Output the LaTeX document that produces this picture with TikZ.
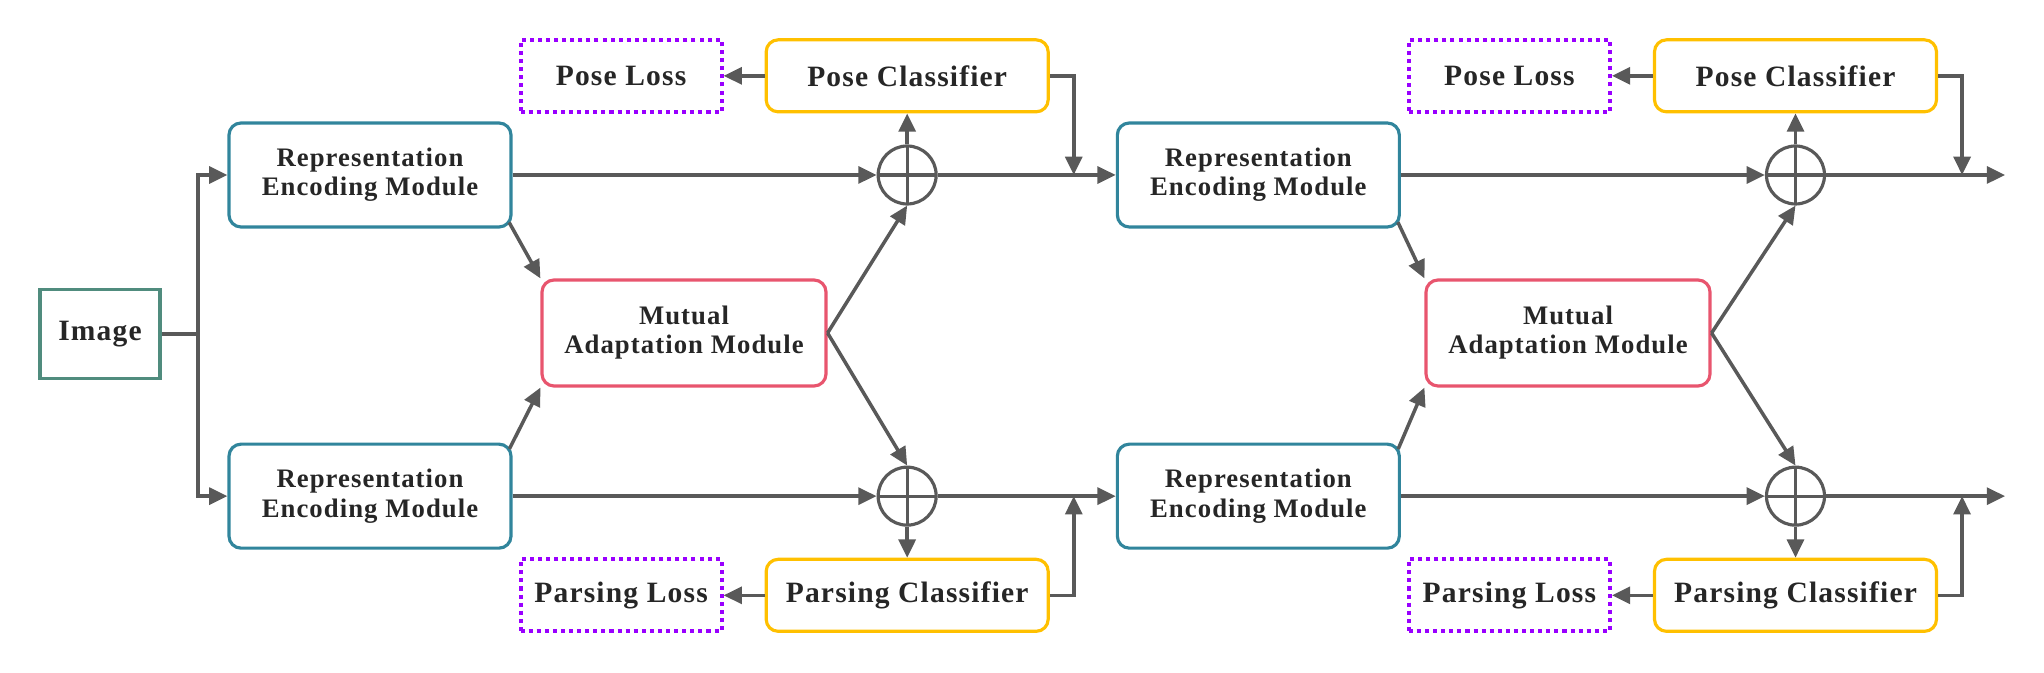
\documentclass[tikz,border=0pt]{standalone}
\usepackage{fontspec}
\setmainfont{Liberation Serif}[LetterSpace=4]
\usepackage{tikz}
\usetikzlibrary{arrows.meta, positioning}

\definecolor{encblue}{RGB}{49,133,156}
\definecolor{imggreen}{RGB}{80,140,126}
\definecolor{mutred}{RGB}{232,85,110}
\definecolor{clsyellow}{RGB}{255,192,0}
\definecolor{losspurple}{RGB}{153,0,255}
\definecolor{arrgray}{RGB}{89,89,89}

\begin{document}
\begin{tikzpicture}[
  every node/.style={text=black!85, font=\bfseries\fontsize{8.4}{10}\selectfont},
  imgbox/.style={rectangle, draw=imggreen, line width=1.1pt, minimum width=1.2cm, minimum height=0.89cm, align=center},
  encbox/.style={rectangle, draw=encblue, line width=0.9pt, rounded corners=0.12cm, minimum width=2.82cm, minimum height=1.04cm, align=center, font=\bfseries\fontsize{7.6}{8.3}\selectfont},
  mutbox/.style={rectangle, draw=mutred, line width=0.9pt, rounded corners=0.12cm, minimum width=2.84cm, minimum height=1.06cm, align=center, font=\bfseries\fontsize{7.6}{8.3}\selectfont},
  clsbox/.style={rectangle, draw=clsyellow, line width=0.9pt, rounded corners=0.12cm, minimum width=2.82cm, minimum height=0.72cm, align=center},
  lossbox/.style={rectangle, draw=losspurple, line width=1.15pt, dash pattern=on 1.15pt off 1.15pt, minimum width=2.01cm, minimum height=0.72cm, align=center},
  plus/.style={circle, draw=arrgray, line width=0.9pt, minimum size=0.58cm, inner sep=0pt,
    path picture={\draw[arrgray, line width=0.9pt] (path picture bounding box.north) -- (path picture bounding box.south)
      (path picture bounding box.west) -- (path picture bounding box.east);}},
  line/.style={draw=arrgray, line width=1pt},
  arr/.style={line, -{Triangle[length=5.2pt, width=4.8pt]}}
]
\useasboundingbox (0,0) rectangle (20.44,6.73);

% Input
\node[imgbox] (img) at (1.00,3.39) {Image};
\coordinate[right=0.36cm of img] (split);

% Stage 1
\node[encbox] (encA) at (3.70,4.98) {Representation\\Encoding Module};
\node[encbox, below=2.14cm of encA] (encB) {Representation\\Encoding Module};
\node[mutbox] (mutA) at (6.84,3.40) {Mutual\\Adaptation Module};
\node[plus, right=3.64cm of encA] (plusA) {};
\node[plus, right=3.64cm of encB] (plusB) {};
\node[clsbox, above=0.31cm of plusA] (clsA) {Pose Classifier};
\node[lossbox, left=0.41cm of clsA] (lossA) {Pose Loss};
\node[clsbox, below=0.31cm of plusB] (clsB) {Parsing Classifier};
\node[lossbox, left=0.41cm of clsB] (lossB) {Parsing Loss};
\coordinate[right=1.36cm of plusA] (joinA);
\coordinate[right=1.36cm of plusB] (joinB);

% Stage 2
\node[encbox, right=1.78cm of plusA] (encC) {Representation\\Encoding Module};
\node[encbox, right=1.78cm of plusB] (encD) {Representation\\Encoding Module};
\node[mutbox] (mutC) at (15.68,3.40) {Mutual\\Adaptation Module};
\node[plus, right=3.64cm of encC] (plusC) {};
\node[plus, right=3.64cm of encD] (plusD) {};
\node[clsbox, above=0.31cm of plusC] (clsC) {Pose Classifier};
\node[lossbox, left=0.41cm of clsC] (lossC) {Pose Loss};
\node[clsbox, below=0.31cm of plusD] (clsD) {Parsing Classifier};
\node[lossbox, left=0.41cm of clsD] (lossD) {Parsing Loss};
\coordinate[right=1.36cm of plusC] (joinC);
\coordinate[right=1.36cm of plusD] (joinD);
\coordinate[right=1.79cm of plusC] (outC);
\coordinate[right=1.79cm of plusD] (outD);

% Edges
\draw[line] (img) -- (split);
\draw[arr] (split) |- (encA);
\draw[arr] (split) |- (encB);

\draw[arr, shorten <=-2pt] (encA.south east) -- (mutA.north west);
\draw[arr, shorten <=-2pt] (encB.north east) -- (mutA.south west);
\draw[arr] (encA) -- (plusA);
\draw[arr] (encB) -- (plusB);
\draw[arr] (mutA.east) -- (plusA.south);
\draw[arr] (mutA.east) -- (plusB.north);
\draw[arr] (plusA) -- (clsA);
\draw[arr] (plusB) -- (clsB);
\draw[arr] (clsA) -- (lossA);
\draw[arr] (clsB) -- (lossB);
\draw[arr] (plusA) -- (encC);
\draw[arr] (plusB) -- (encD);
\draw[arr] (clsA.east) -| (joinA);
\draw[arr] (clsB.east) -| (joinB);

\draw[arr, shorten <=-2pt] (encC.south east) -- (mutC.north west);
\draw[arr, shorten <=-2pt] (encD.north east) -- (mutC.south west);
\draw[arr] (encC) -- (plusC);
\draw[arr] (encD) -- (plusD);
\draw[arr] (mutC.east) -- (plusC.south);
\draw[arr] (mutC.east) -- (plusD.north);
\draw[arr] (plusC) -- (clsC);
\draw[arr] (plusD) -- (clsD);
\draw[arr] (clsC) -- (lossC);
\draw[arr] (clsD) -- (lossD);
\draw[arr] (plusC) -- (outC);
\draw[arr] (plusD) -- (outD);
\draw[arr] (clsC.east) -| (joinC);
\draw[arr] (clsD.east) -| (joinD);

\end{tikzpicture}
\end{document}
